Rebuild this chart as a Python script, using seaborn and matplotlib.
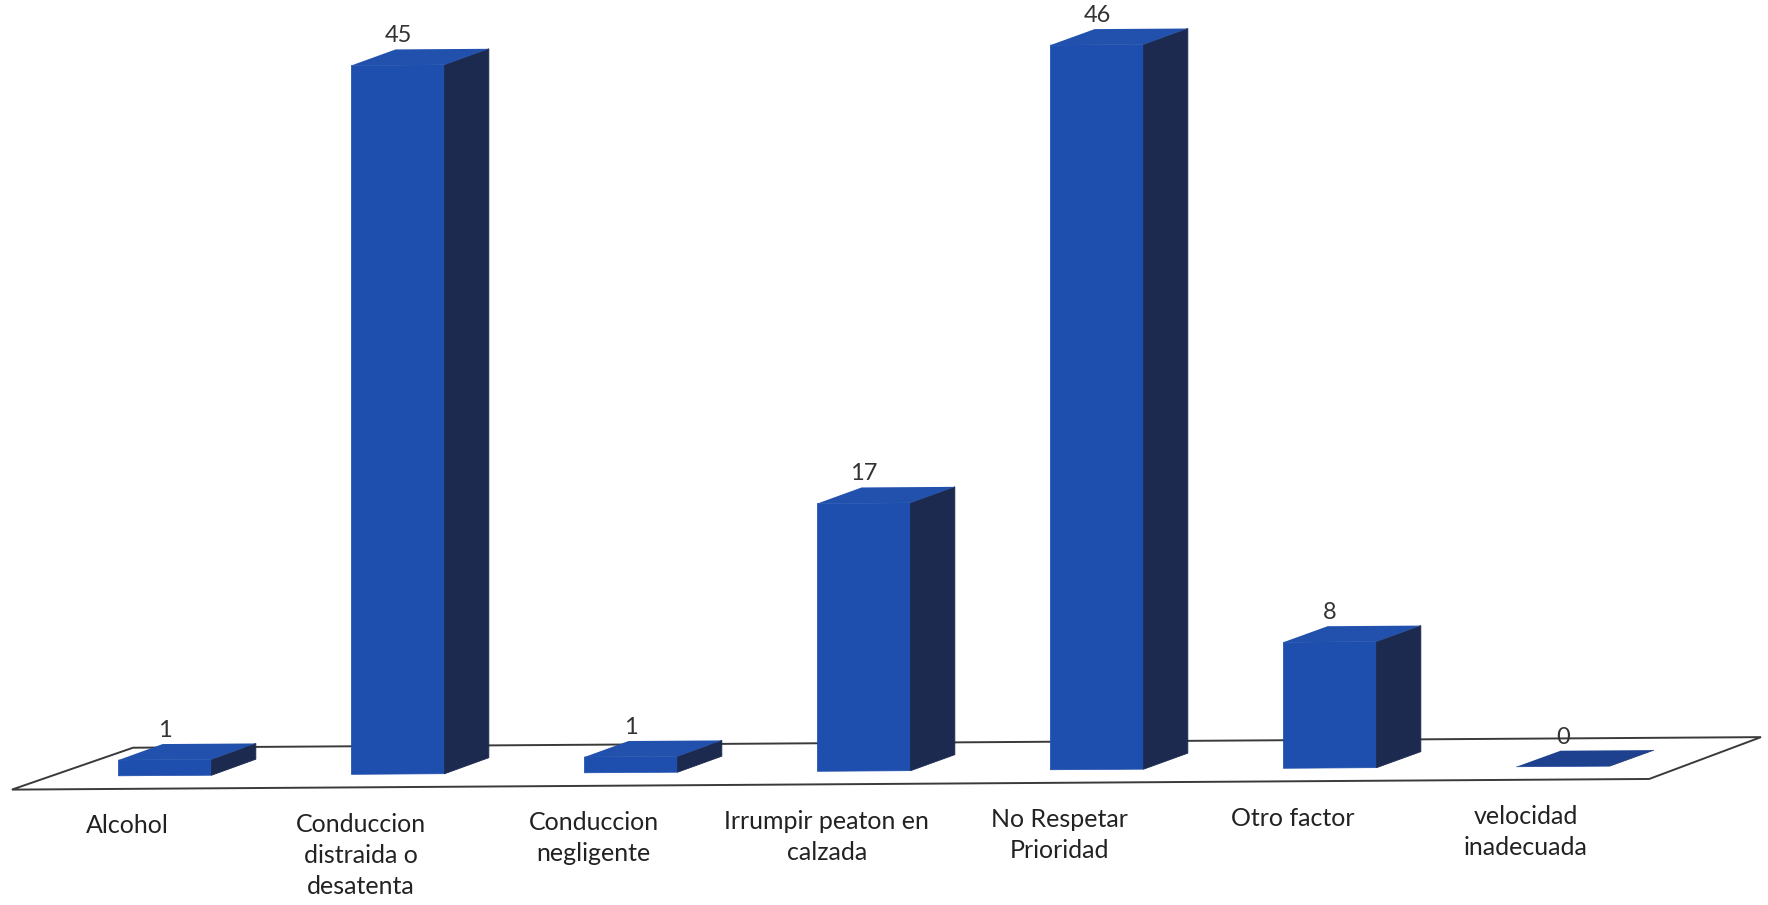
import numpy as np
import pandas as pd
import matplotlib
matplotlib.use('Agg')
import matplotlib.pyplot as plt
from matplotlib.patches import Polygon
from matplotlib.transforms import Affine2D
import seaborn as sns

# data
categories = ['Alcohol', 'Conduccion\ndistraida o\ndesatenta', 'Conduccion\nnegligente',
              'Irrumpir peaton en\ncalzada', 'No Respetar\nPrioridad', 'Otro factor',
              'velocidad\ninadecuada']
counts = [1, 45, 1, 17, 46, 8, 0]

df = pd.DataFrame({'factor': categories, 'count': counts})

# colours of the 3d faces
FRONT = '#1f4fae'
SIDE = '#1c2a50'
TOP = '#2151ad'

# depth of the boxes (x in categories, y in counts)
DX, DY = 0.19, 1.0

sns.set_theme(style='white')
plt.rcParams['font.family'] = ['Lato', 'DejaVu Sans']

fig = plt.figure(figsize=(17.68, 9.05), dpi=100)
ax = fig.add_axes([0, 0, 1, 1])
sns.barplot(data=df, x='factor', y='count', color=FRONT, width=0.4,
            saturation=1, ax=ax, zorder=3)
ax.set_xlim(-0.708, 6.88)
ax.set_ylim(-8.15, 49.3)
ax.axis('off')

# slight perspective tilt of the whole scene
tilt = ax.transData + Affine2D().skew(0, np.arctan(0.0065))

# floor
floor = Polygon([(-0.657, -0.83), (6.37, -0.83), (6.85, 1.78), (-0.137, 1.78)],
                closed=True, facecolor='white', edgecolor='#3a3a3a', lw=1.4,
                transform=tilt, zorder=1)
ax.add_patch(floor)

for p in list(ax.patches):
    if p is floor:
        continue
    x0, w, h = p.get_x(), p.get_width(), p.get_height()
    p.set_transform(tilt)
    p.set_edgecolor(FRONT)
    p.set_linewidth(0.5)
    side = Polygon([(x0 + w, 0), (x0 + w + DX, DY), (x0 + w + DX, h + DY), (x0 + w, h)],
                   closed=True, facecolor=SIDE, edgecolor=SIDE, lw=0.6,
                   transform=tilt, zorder=3)
    top = Polygon([(x0, h), (x0 + w, h), (x0 + w + DX, h + DY), (x0 + DX, h + DY)],
                  closed=True, facecolor=TOP if h > 0 else '#1e418f', edgecolor='none',
                  transform=tilt, zorder=3)
    ax.add_patch(side)
    ax.add_patch(top)
    ax.text(x0 + w / 2, h + DY + 0.2, f'{h:.0f}', ha='center', va='bottom',
            fontsize=17, color='#333333', transform=tilt, zorder=4)

# category labels under the floor
for i, lab in enumerate(categories):
    ax.text(i - 0.16, -2.45, lab, ha='center', va='top', fontsize=18,
            linespacing=1.42, color='#222222', transform=tilt)

fig.savefig('out.png', dpi=100)
